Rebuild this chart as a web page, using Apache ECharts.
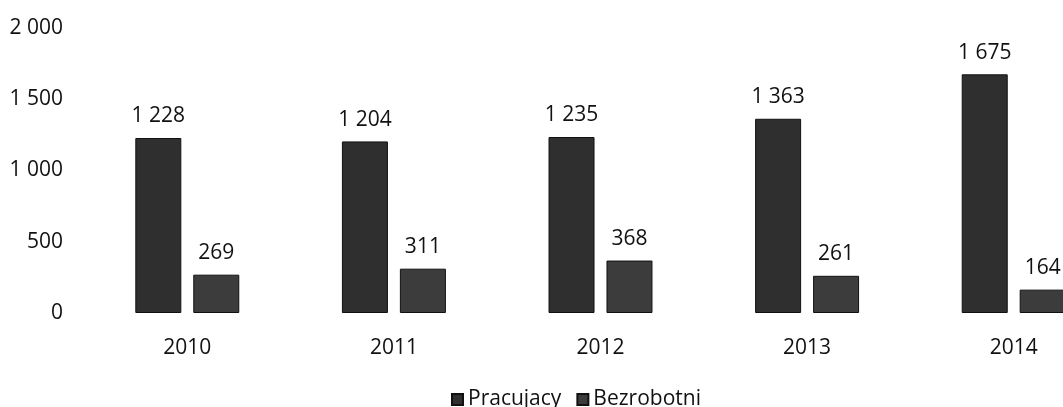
<!DOCTYPE html>
<html><head><meta charset="utf-8">
<script src="https://cdn.jsdelivr.net/npm/echarts@6/dist/echarts.min.js"></script>
<style>html,body{margin:0;padding:0;background:#fff}#c{width:1063px;height:407px}</style>
</head><body><div id="c"></div>
<script>
const categories = ['2010','2011','2012','2013','2014'];
const pracujacy = [1228, 1204, 1235, 1363, 1675];
const bezrobotni = [269, 311, 368, 261, 164];
const yTicks = [0, 500, 1000, 1500, 2000];

function fmt(v){ return String(v).replace(/\B(?=(\d{3})+(?!\d))/g, ' '); }
const font = '"Open Sans", "Liberation Sans", sans-serif';
const fs = 21;
const chart = echarts.init(document.getElementById('c'));
chart.setOption({
  animation: false,
  textStyle: {fontFamily: font},
  grid: {left: 84, width: 1033, top: 28, bottom: 94, outerBoundsMode: 'none', containLabel: false},
  legend: {
    top: 384, left: 446, itemWidth: 11, itemHeight: 11, itemGap: 15, icon: 'rect',
    textStyle: {fontFamily: font, fontSize: fs, color: '#111'},
    data: ['Pracujacy','Bezrobotni']
  },
  xAxis: {
    type: 'category', data: categories,
    axisLine: {show: false}, axisTick: {show: false},
    axisLabel: {margin: 25, fontSize: fs, color: '#111', fontFamily: font}
  },
  yAxis: {
    type: 'value', min: yTicks[0], max: yTicks[yTicks.length-1], interval: 500,
    splitLine: {show: false}, axisLine: {show: false}, axisTick: {show: false},
    axisLabel: {margin: 21, fontSize: fs, color: '#111', fontFamily: font, formatter: v => fmt(v)}
  },
  series: [
    {name: 'Pracujacy', type: 'bar', data: pracujacy, barWidth: 46, barGap: '26%',
     itemStyle: {color: '#2f2f2f', borderColor: '#111', borderWidth: 1},
     label: {show: true, position: 'top', distance: 11, fontSize: fs, color: '#111', fontFamily: font, formatter: p => fmt(p.value)}},
    {name: 'Bezrobotni', type: 'bar', data: bezrobotni, barWidth: 46,
     itemStyle: {color: '#3c3c3c', borderColor: '#111', borderWidth: 1},
     label: {show: true, position: 'top', distance: 11, fontSize: fs, color: '#111', fontFamily: font, formatter: p => fmt(p.value)}}
  ]
});
</script></body></html>
